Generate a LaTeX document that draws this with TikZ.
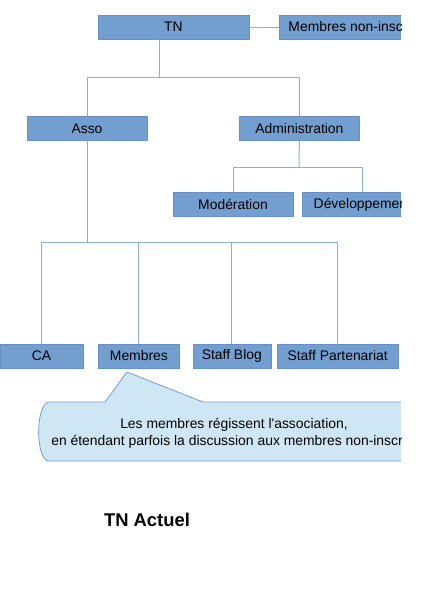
\documentclass[tikz,border=0pt]{standalone}
\usepackage{fontspec}
\setmainfont{Liberation Sans}
\usetikzlibrary{positioning}
\definecolor{boxblue}{HTML}{729FCF}
\definecolor{boxedge}{HTML}{6890C4}
\definecolor{linkblue}{HTML}{8CAFD9}
\definecolor{notefill}{HTML}{CFE6F5}

\begin{document}
\begin{tikzpicture}[
    x=1pt, y=-1pt,
    node distance=30pt,
    box/.style={rectangle, draw=boxedge, fill=boxblue, minimum height=24pt, inner sep=0pt, font=\fontsize{13.9}{16}\selectfont},
    link/.style={draw=linkblue, line width=1pt},
    note/.style={fill=notefill, draw=boxblue, line width=0.8pt}
]
\useasboundingbox (0,0) rectangle (424,600);
\clip (0,0) rectangle (401,600);

% top level
\node[box, minimum width=151pt] (tn) at (173.5,27) {TN};
\node[box, minimum width=151pt, right=30pt of tn] (nonins) {Membres non-inscrits};

% second level
\node[box, minimum width=120pt] (asso) at (87,128.5) {Asso};
\node[box, minimum width=120pt, right=92pt of asso] (admin) {Administration};
\node[box, minimum width=120pt] (moder) at (233,204.5) {Modération};
\node[box, minimum width=120pt, right=9pt of moder] (devel) {Développement};

% bottom row
\node[box, minimum width=83pt] (ca) at (41.5,356) {CA};
\node[box, minimum width=81pt, right=15pt of ca] (membres) {Membres};
\node[box, minimum width=78pt, right=13pt of membres] (blog) {Staff Blog};
\node[box, minimum width=121pt, right=6pt of blog] (parten) {Staff Partenariat};

\coordinate (tnfork) at (159,77);
\coordinate (admfork) at (299,167);
\coordinate (assofork) at (87,242);

\draw[link] (tn) -- (nonins);
\draw[link] (tnfork |- tn.south) -- (tnfork);
\draw[link] (tnfork) -| (asso.north);
\draw[link] (tnfork) -| (admin.north);
\draw[link] (admin.south) -- (admfork);
\draw[link] (admfork) -| (moder.north);
\draw[link] (admfork) -| (devel.north);
\draw[link] (asso.south) -- (assofork);
\draw[link] (assofork) -| (ca.north);
\draw[link] (assofork) -| (membres.north);
\draw[link] (assofork) -| (blog.north);
\draw[link] (assofork) -| (parten.north);

% callout
\coordinate (notetip) at (127,372);
\draw[note] (105,402) -- (notetip) -- (203,402) -- (440,402) -- (440,461) -- (48,461)
    .. controls (36,458) and (35,408) .. (48,402) -- cycle;
\node[font=\fontsize{13.9}{17}\selectfont, align=center] (notetext) at (234,433)
    {Les membres régissent l\textquotesingle association,\\en étendant parfois la discussion aux membres non-inscrits};

\node[font=\fontsize{18.4}{22}\selectfont\bfseries] (title) at (147,520) {TN Actuel};

\end{tikzpicture}
\end{document}
